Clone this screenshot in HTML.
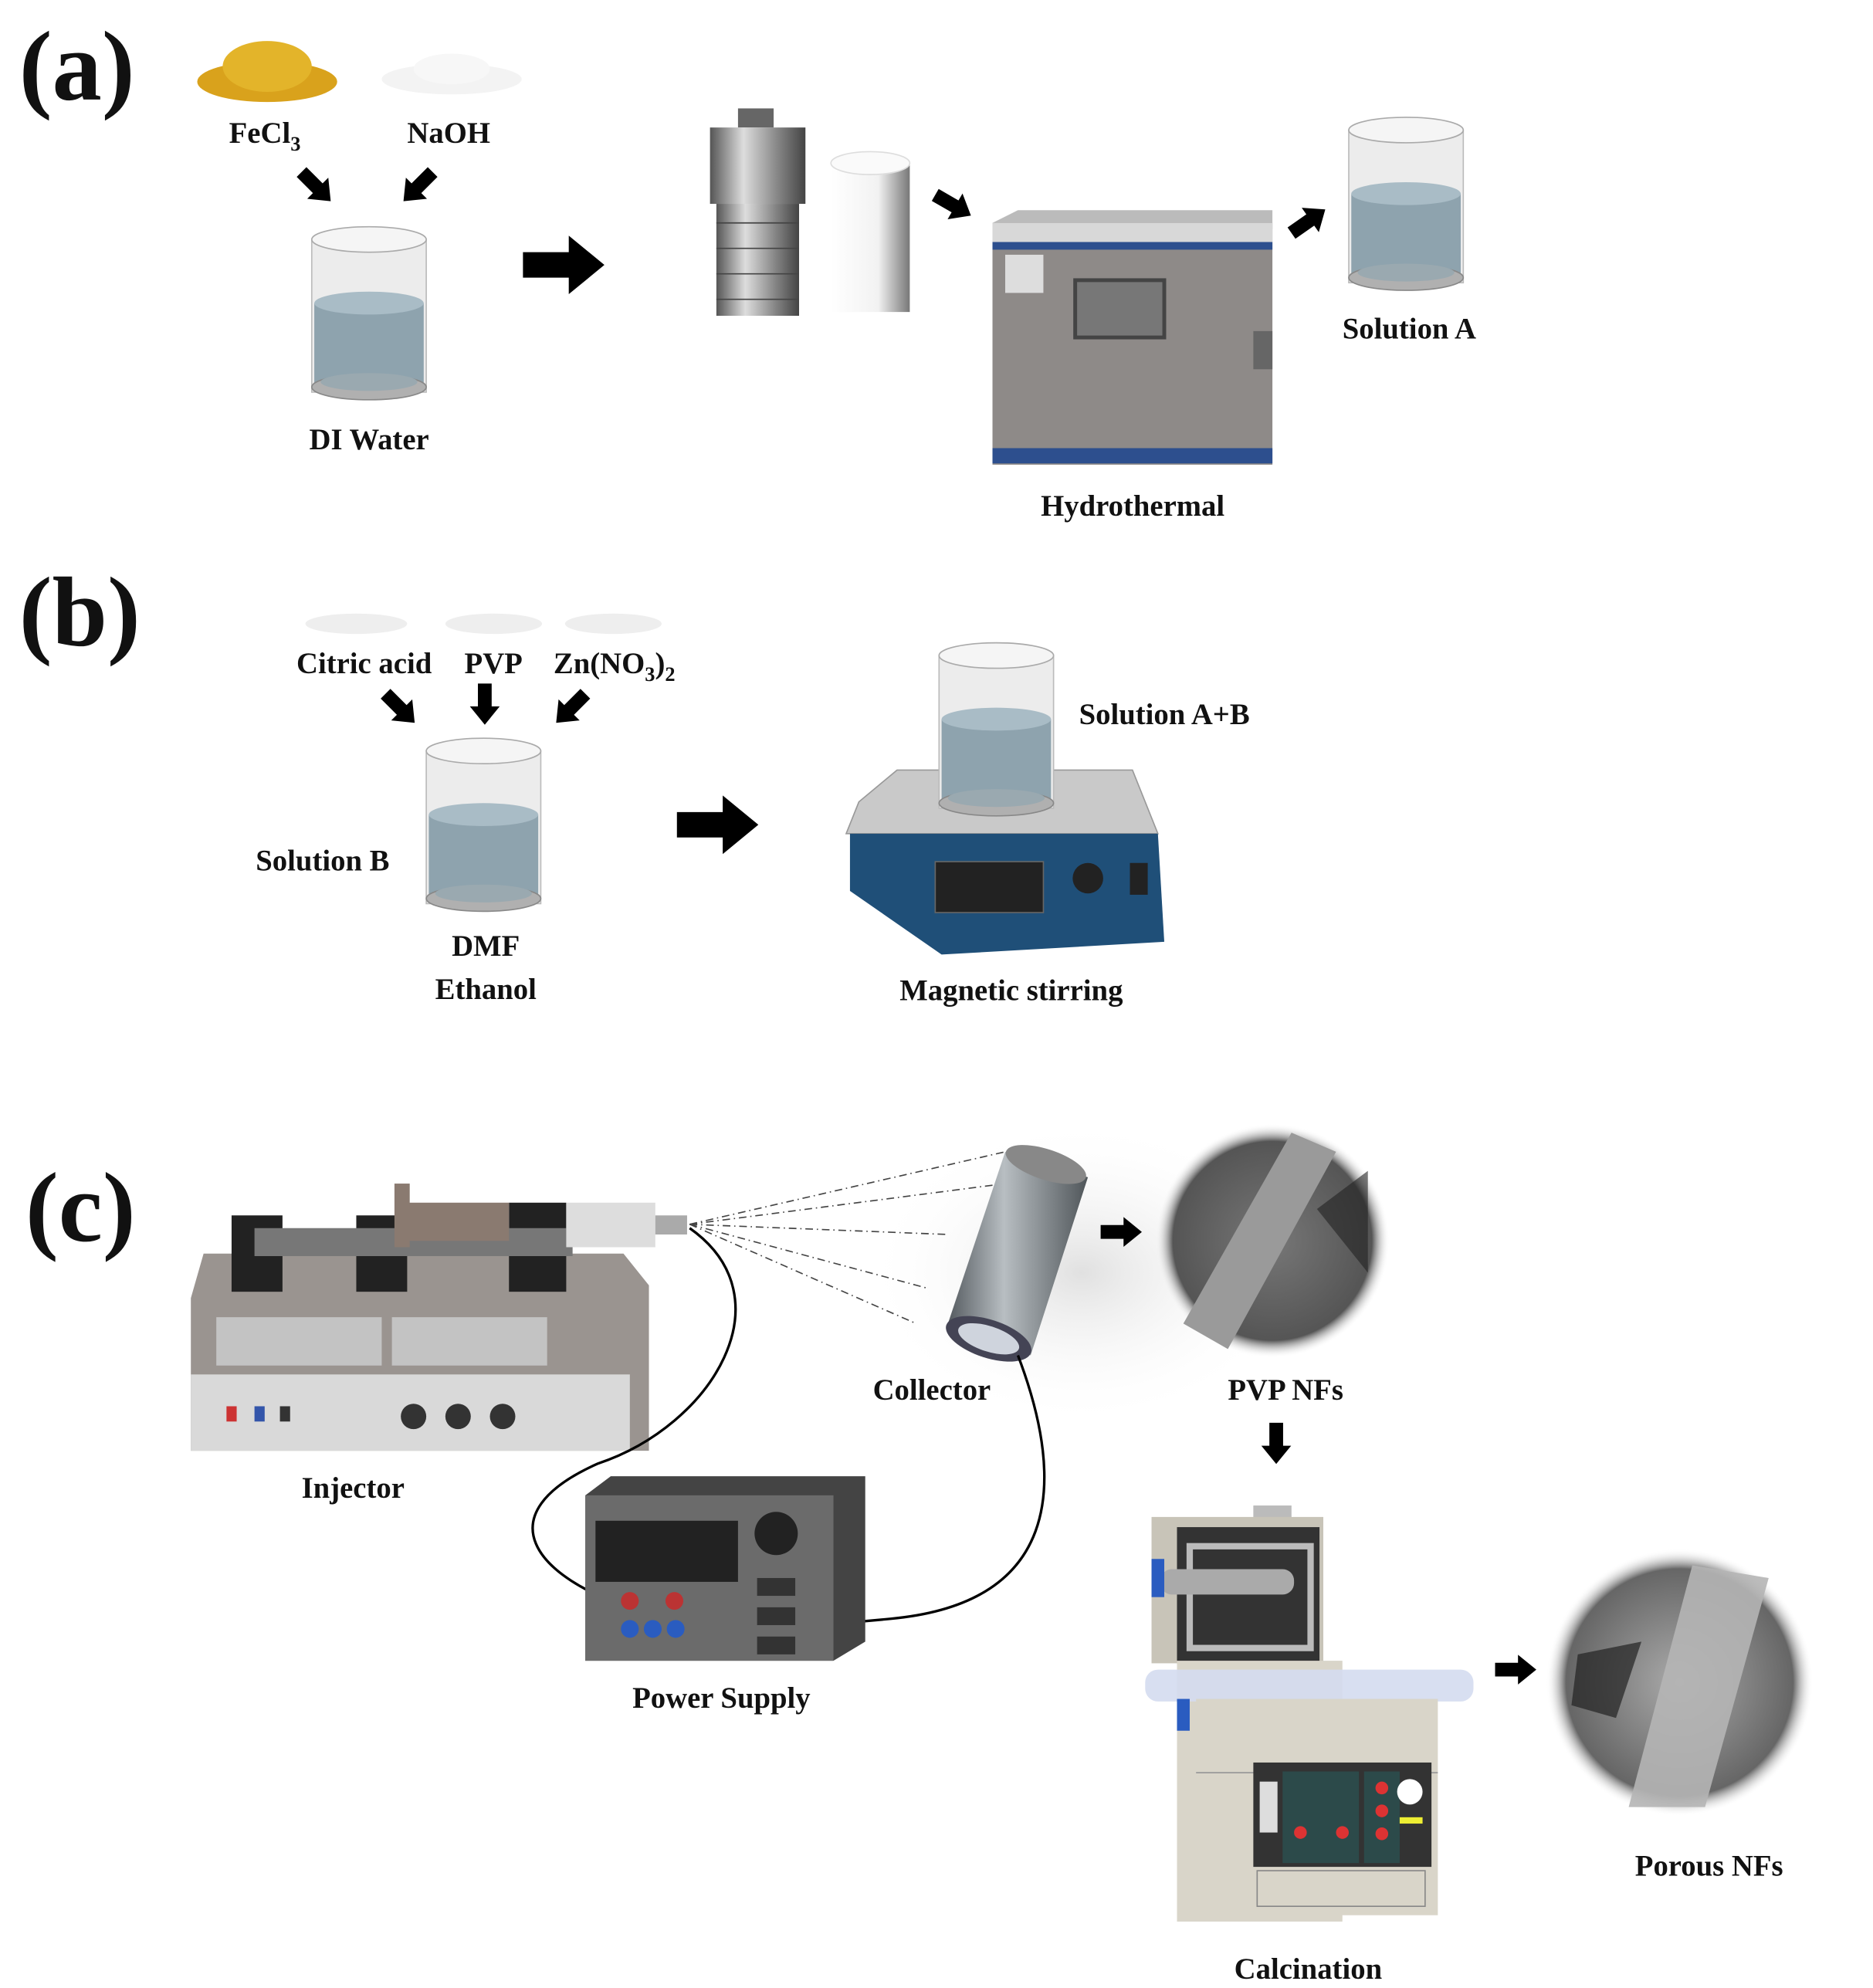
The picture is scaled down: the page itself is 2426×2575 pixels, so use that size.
<!DOCTYPE html>
<html><head><meta charset="utf-8"><style>
html,body{margin:0;padding:0;background:#fff}
svg{display:block}
text{font-family:"Liberation Serif",serif;font-weight:bold;fill:#111}
</style></head><body>
<svg width="2426" height="2575" viewBox="0 0 1472 1562" xmlns="http://www.w3.org/2000/svg">
<defs>
<linearGradient id="steel" x1="0" x2="1"><stop offset="0" stop-color="#555"/><stop offset=".35" stop-color="#ddd"/><stop offset=".7" stop-color="#888"/><stop offset="1" stop-color="#444"/></linearGradient>
<linearGradient id="white" x1="0" x2="1"><stop offset="0" stop-color="#fff"/><stop offset=".6" stop-color="#f2f2f2"/><stop offset="1" stop-color="#777"/></linearGradient>
<linearGradient id="coll" x1="0" x2="1"><stop offset="0" stop-color="#555b60"/><stop offset=".4" stop-color="#b8bec2"/><stop offset="1" stop-color="#50565a"/></linearGradient>
<radialGradient id="sem1"><stop offset="0" stop-color="#777"/><stop offset=".85" stop-color="#555"/><stop offset="1" stop-color="#fff" stop-opacity="0"/></radialGradient>
<radialGradient id="sem2"><stop offset="0" stop-color="#aaa"/><stop offset=".85" stop-color="#666"/><stop offset="1" stop-color="#fff" stop-opacity="0"/></radialGradient>
<radialGradient id="haze" cx=".5" cy=".5"><stop offset="0" stop-color="#ccc" stop-opacity=".6"/><stop offset="1" stop-color="#fff" stop-opacity="0"/></radialGradient>
<g id="beaker">
<rect x="0" y="10" width="90" height="120" fill="#ececec" stroke="#bbb"/>
<ellipse cx="45" cy="10" rx="45" ry="10" fill="#f5f5f5" stroke="#aaa"/>
<rect x="2" y="60" width="86" height="65" fill="#8ea3ae"/>
<ellipse cx="45" cy="60" rx="43" ry="9" fill="#a9bcc6"/>
<ellipse cx="45" cy="126" rx="45" ry="10" fill="#b0b0b0" stroke="#888"/>
<ellipse cx="45" cy="122" rx="38" ry="7" fill="#9aa9b0"/>
</g>
<g id="arr"><path d="M0,-6 L20,-6 L20,-13 L36,0 L20,13 L20,6 L0,6Z" fill="#000"/></g>
<g id="big"><path d="M0,-10 L36,-10 L36,-23 L64,0 L36,23 L36,10 L0,10Z" fill="#000"/></g>
</defs>

<!-- (a) -->
<text x="15" y="78" font-size="78">(a)</text>
<ellipse cx="210" cy="64" rx="55" ry="16" fill="#d9a21c"/><ellipse cx="210" cy="52" rx="35" ry="20" fill="#e3b42a"/>
<ellipse cx="355" cy="62" rx="55" ry="12" fill="#f3f3f3"/><ellipse cx="355" cy="54" rx="30" ry="12" fill="#f7f7f7"/>
<text x="180" y="112" font-size="23.5">FeCl<tspan font-size="16" dy="6">3</tspan></text>
<text x="320" y="112" font-size="23.5">NaOH</text>
<use href="#arr" transform="translate(237,135) rotate(45) scale(.9)"/>
<use href="#arr" transform="translate(340,135) rotate(135) scale(.9)"/>
<use href="#beaker" transform="translate(245,178)"/>
<text x="243" y="353" font-size="23.5">DI Water</text>
<use href="#big" transform="translate(411,208)"/>
<rect x="580" y="85" width="28" height="15" fill="#666"/>
<rect x="558" y="100" width="75" height="60" fill="url(#steel)"/>
<rect x="563" y="160" width="65" height="88" fill="url(#steel)"/>
<g stroke="#444"><line x1="563" y1="175" x2="628" y2="175"/><line x1="563" y1="195" x2="628" y2="195"/><line x1="563" y1="215" x2="628" y2="215"/><line x1="563" y1="235" x2="628" y2="235"/></g>
<rect x="653" y="128" width="62" height="117" fill="url(#white)"/>
<ellipse cx="684" cy="128" rx="31" ry="9" fill="#fafafa" stroke="#ddd"/>
<use href="#arr" transform="translate(735,153) rotate(30) scale(.9)"/>
<path d="M780,175 L800,165 L1000,165 L1000,180Z" fill="#bbb"/>
<rect x="780" y="175" width="220" height="190" fill="#8e8a88"/>
<rect x="780" y="175" width="220" height="18" fill="#d8d8d8"/>
<rect x="780" y="190" width="220" height="6" fill="#2d4f8e"/>
<rect x="780" y="352" width="220" height="12" fill="#2d4f8e"/>
<rect x="845" y="220" width="70" height="45" fill="#777" stroke="#444" stroke-width="3"/>
<rect x="790" y="200" width="30" height="30" fill="#ddd"/>
<rect x="985" y="260" width="15" height="30" fill="#666"/>
<use href="#arr" transform="translate(1015,183) rotate(-35) scale(.9)"/>
<text x="818" y="405" font-size="23.5">Hydrothermal</text>
<use href="#beaker" transform="translate(1060,92)"/>
<text x="1055" y="266" font-size="23.5">Solution A</text>

<!-- (b) -->
<text x="15" y="507" font-size="78">(b)</text>
<ellipse cx="280" cy="490" rx="40" ry="8" fill="#eee"/><ellipse cx="388" cy="490" rx="38" ry="8" fill="#eee"/><ellipse cx="482" cy="490" rx="38" ry="8" fill="#eee"/>
<text x="233" y="529" font-size="23.5">Citric acid</text>
<text x="365" y="529" font-size="23.5">PVP</text>
<text x="435" y="529" font-size="23.5">Zn(NO<tspan font-size="16" dy="6">3</tspan><tspan dy="-6">)</tspan><tspan font-size="16" dy="6">2</tspan></text>
<use href="#arr" transform="translate(303,545) rotate(45) scale(.9)"/>
<use href="#arr" transform="translate(381,537) rotate(90) scale(.9)"/>
<use href="#arr" transform="translate(460,545) rotate(135) scale(.9)"/>
<use href="#beaker" transform="translate(335,580)"/>
<text x="201" y="684" font-size="23.5">Solution B</text>
<text x="355" y="751" font-size="23.5">DMF</text>
<text x="342" y="785" font-size="23.5">Ethanol</text>
<use href="#big" transform="translate(532,648)"/>
<path d="M675,630 L705,605 L890,605 L910,655 L665,655Z" fill="#c9c9c9" stroke="#999"/>
<path d="M668,655 L910,655 L915,740 L740,750 L668,700Z" fill="#1f4f78"/>
<rect x="735" y="677" width="85" height="40" fill="#222" stroke="#666"/>
<circle cx="855" cy="690" r="12" fill="#222"/><rect x="888" y="678" width="14" height="25" fill="#222"/>
<use href="#beaker" transform="translate(738,505)"/>
<text x="848" y="569" font-size="23.5">Solution A+B</text>
<text x="707" y="786" font-size="23.5">Magnetic stirring</text>

<!-- (c) -->
<text x="20" y="975" font-size="78">(c)</text>
<ellipse cx="850" cy="1000" rx="170" ry="120" fill="url(#haze)"/>
<path d="M160,985 L490,985 L510,1010 L510,1140 L150,1140 L150,1020Z" fill="#9a9490"/>
<rect x="150" y="1080" width="345" height="60" fill="#d9d9d9"/>
<rect x="170" y="1035" width="130" height="38" fill="#c3c3c3"/><rect x="308" y="1035" width="122" height="38" fill="#c3c3c3"/>
<rect x="182" y="955" width="40" height="60" fill="#222"/><rect x="280" y="955" width="40" height="60" fill="#222"/><rect x="400" y="945" width="45" height="70" fill="#222"/>
<rect x="200" y="965" width="250" height="22" fill="#777"/>
<rect x="310" y="930" width="12" height="50" fill="#8a7a70"/>
<rect x="320" y="945" width="80" height="30" fill="#8a7a70"/>
<rect x="445" y="945" width="70" height="35" fill="#ddd"/><rect x="515" y="955" width="25" height="15" fill="#aaa"/>
<rect x="178" y="1105" width="8" height="12" fill="#c33"/><rect x="200" y="1105" width="8" height="12" fill="#35a"/><rect x="220" y="1105" width="8" height="12" fill="#333"/>
<circle cx="325" cy="1113" r="10" fill="#333"/><circle cx="360" cy="1113" r="10" fill="#333"/><circle cx="395" cy="1113" r="10" fill="#333"/>
<text x="237" y="1177" font-size="23.5">Injector</text>
<g stroke="#444" stroke-dasharray="6,3,1,3" fill="none"><line x1="542" y1="962" x2="790" y2="905"/><line x1="542" y1="962" x2="790" y2="930"/><line x1="542" y1="962" x2="745" y2="970"/><line x1="542" y1="962" x2="728" y2="1012"/><line x1="542" y1="962" x2="720" y2="1040"/></g>
<path d="M790,905 L855,925 L810,1065 L745,1040Z" fill="url(#coll)"/>
<ellipse cx="822" cy="915" rx="33" ry="12" fill="#888" transform="rotate(18 822 915)"/>
<ellipse cx="777" cy="1052" rx="35" ry="15" fill="#445" transform="rotate(18 777 1052)"/>
<ellipse cx="777" cy="1052" rx="25" ry="10" fill="#cfd4dd" transform="rotate(18 777 1052)"/>
<text x="686" y="1100" font-size="23.5">Collector</text>
<use href="#arr" transform="translate(865,968) scale(.9)"/>
<circle cx="1000" cy="975" r="92" fill="url(#sem1)"/>
<path d="M930,1040 L1015,890 L1050,905 L965,1060Z" fill="#9a9a9a"/>
<path d="M1035,950 L1075,920 L1075,1000Z" fill="#222" opacity=".6"/>
<text x="965" y="1100" font-size="23.5">PVP NFs</text>
<use href="#arr" transform="translate(1003,1118) rotate(90) scale(.9)"/>
<path d="M542,965 C620,1020 560,1120 470,1150 C380,1190 420,1240 500,1265" stroke="#000" stroke-width="2" fill="none"/>
<path d="M800,1065 C840,1170 830,1260 700,1272 C620,1280 560,1280 530,1280" stroke="#000" stroke-width="2" fill="none"/>
<path d="M460,1175 L480,1160 L680,1160 L680,1290 L655,1305 L460,1305Z" fill="#444"/>
<rect x="460" y="1175" width="195" height="130" fill="#6b6b6b"/>
<rect x="468" y="1195" width="112" height="48" fill="#222"/>
<circle cx="610" cy="1205" r="17" fill="#222"/>
<rect x="595" y="1240" width="30" height="14" fill="#333"/><rect x="595" y="1263" width="30" height="14" fill="#333"/><rect x="595" y="1286" width="30" height="14" fill="#333"/>
<circle cx="495" cy="1258" r="7" fill="#b33"/><circle cx="530" cy="1258" r="7" fill="#b33"/>
<circle cx="495" cy="1280" r="7" fill="#2a5cc0"/><circle cx="513" cy="1280" r="7" fill="#2a5cc0"/><circle cx="531" cy="1280" r="7" fill="#2a5cc0"/>
<text x="497" y="1342" font-size="23.5">Power Supply</text>
<rect x="985" y="1183" width="30" height="15" fill="#bbb"/>
<rect x="905" y="1192" width="135" height="115" fill="#c8c4b8"/>
<rect x="925" y="1200" width="112" height="108" fill="#333"/>
<rect x="935" y="1215" width="95" height="80" fill="none" stroke="#bbb" stroke-width="5"/>
<rect x="912" y="1233" width="105" height="20" fill="#aaa" rx="9"/>
<rect x="905" y="1225" width="10" height="30" fill="#2a5cc0"/>
<rect x="925" y="1305" width="130" height="205" fill="#d9d5c9"/>
<rect x="900" y="1312" width="258" height="25" fill="#d4dcf0" rx="10" opacity=".9"/>
<rect x="925" y="1335" width="10" height="25" fill="#2a5cc0"/>
<rect x="940" y="1335" width="190" height="170" fill="#d9d5c9"/>
<line x1="940" y1="1393" x2="1130" y2="1393" stroke="#999"/>
<rect x="985" y="1385" width="140" height="82" fill="#333"/>
<rect x="1008" y="1392" width="60" height="72" fill="#2c4a4a"/>
<rect x="1072" y="1392" width="28" height="72" fill="#2c4a4a"/>
<circle cx="1022" cy="1440" r="5" fill="#d33"/><circle cx="1055" cy="1440" r="5" fill="#d33"/>
<circle cx="1086" cy="1405" r="5" fill="#d33"/><circle cx="1086" cy="1423" r="5" fill="#d33"/><circle cx="1086" cy="1441" r="5" fill="#d33"/>
<circle cx="1108" cy="1408" r="10" fill="#fff"/>
<rect x="990" y="1400" width="14" height="40" fill="#ddd"/>
<rect x="1100" y="1428" width="18" height="5" fill="#ee3"/>
<rect x="988" y="1470" width="132" height="28" fill="none" stroke="#888"/>
<text x="970" y="1555" font-size="23.5">Calcination</text>
<use href="#arr" transform="translate(1175,1312) scale(.9)"/>
<circle cx="1320" cy="1322" r="105" fill="url(#sem2)"/>
<path d="M1280,1420 L1330,1230 L1390,1240 L1340,1420Z" fill="#b5b5b5" opacity=".9"/>
<path d="M1240,1300 L1290,1290 L1270,1350 L1235,1340Z" fill="#222" opacity=".7"/>
<text x="1285" y="1474" font-size="23.5">Porous NFs</text>
</svg>
</body></html>
